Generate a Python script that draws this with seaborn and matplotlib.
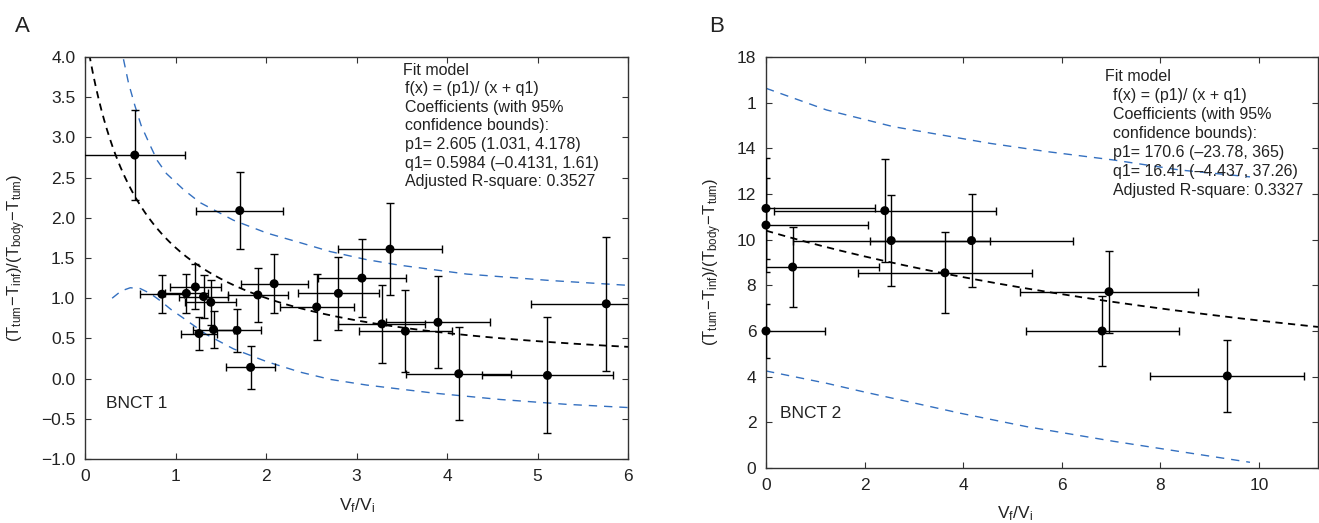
import numpy as np
import pandas as pd
import matplotlib
matplotlib.use('Agg')
import matplotlib.pyplot as plt
import seaborn as sns

# ---- panel A data (BNCT 1) ----
a_x = [0.55, 1.71, 0.85, 1.12, 1.22, 1.31, 1.39, 1.26, 1.42, 1.68, 1.83, 1.91,
       2.09, 2.56, 2.80, 3.06, 3.37, 3.28, 3.54, 3.90, 4.13, 5.11, 5.76]
a_y = [2.78, 2.09, 1.05, 1.06, 1.14, 1.02, 0.95, 0.56, 0.61, 0.60, 0.14, 1.04,
       1.18, 0.89, 1.06, 1.25, 1.61, 0.68, 0.59, 0.70, 0.06, 0.04, 0.93]
a_err = [0.56, 0.48, 0.24, 0.24, 0.28, 0.27, 0.28, 0.20, 0.23, 0.27, 0.27, 0.33,
         0.37, 0.41, 0.45, 0.49, 0.57, 0.48, 0.51, 0.57, 0.58, 0.72, 0.83]
a_p1, a_q1 = 2.605, 0.5984
a_up_x = [0.30, 0.35, 0.42, 0.48, 0.55, 0.62, 0.72, 0.80, 0.90, 1.09, 1.27, 1.64, 2.01, 2.38, 2.71, 3.11, 3.48, 4.22, 5.14, 6.0]
a_up_y = [4.80, 4.43, 4.00, 3.68, 3.40, 3.15, 2.90, 2.71, 2.55, 2.35, 2.19, 1.97, 1.81, 1.69, 1.58, 1.48, 1.41, 1.30, 1.22, 1.16]
a_lo_x = [0.30, 0.40, 0.50, 0.61, 0.72, 0.83, 0.95, 1.09, 1.34, 1.64, 2.01, 2.38, 2.71, 3.11, 3.85, 4.59, 5.32, 6.0]
a_lo_y = [1.00, 1.09, 1.13, 1.12, 1.06, 0.97, 0.86, 0.75, 0.55, 0.37, 0.21, 0.08, -0.01, -0.08, -0.18, -0.26, -0.32, -0.36]

# ---- panel B data (BNCT 2) ----
b_x = [0.0, 0.0, 0.0, 0.54, 2.41, 2.54, 4.17, 3.63, 6.82, 6.96, 9.36]
b_y = [11.37, 10.64, 6.00, 8.80, 11.27, 9.96, 9.96, 8.55, 6.00, 7.72, 4.03]
b_err = [2.22, 2.07, 1.20, 1.75, 2.25, 2.00, 2.05, 1.77, 1.55, 1.80, 1.56]
b_p1, b_q1 = 170.6, 16.41
b_up_x = [0.0, 1.23, 2.58, 4.54, 5.69, 7.05, 8.40, 9.82]
b_up_y = [16.63, 15.68, 14.95, 14.22, 13.86, 13.49, 13.05, 12.75]
b_lo_x = [0.0, 1.23, 1.91, 2.58, 3.94, 5.29, 7.05, 8.40, 9.82]
b_lo_y = [4.25, 3.71, 3.37, 3.05, 2.40, 1.81, 1.17, 0.72, 0.25]

a_text = ("f(x) = (p1)/ (x + q1)\nCoefficients (with 95%\nconfidence bounds):\n"
          "p1= 2.605 (1.031, 4.178)\nq1= 0.5984 (\u20130.4131, 1.61)\nAdjusted R-square: 0.3527")
b_text = ("f(x) = (p1)/ (x + q1)\nCoefficients (with 95%\nconfidence bounds):\n"
          "p1= 170.6 (\u201323.78, 365)\nq1= 16.41 (\u20134.437, 37.26)\nAdjusted R-square: 0.3327")

sns.set_theme(style='ticks')
plt.rcParams['font.family'] = ['Liberation Sans', 'DejaVu Sans']
plt.rcParams['mathtext.fontset'] = 'custom'
plt.rcParams['mathtext.rm'] = 'Liberation Sans'
plt.rcParams['mathtext.it'] = 'Liberation Sans:italic'
plt.rcParams['axes.unicode_minus'] = True

dark = '#333333'
blue = '#3470c0'
ylab = r'$(\mathrm{T_{tum}}\!-\!\mathrm{T_{inf}})/(\mathrm{T_{body}}\!-\!\mathrm{T_{tum}})$'
xlab = r'$\mathrm{V_f/V_i}$'

fig = plt.figure(figsize=(13.19, 5.23), dpi=100)
axA = fig.add_axes([85/1319, 64/523, 543/1319, 402/523])
axB = fig.add_axes([766/1319, 55/523, 552/1319, 411/523])


def panel(ax, x, y, err, p1, q1, upx, upy, lox, loy, xmax):
    fx = np.linspace(0.001, xmax, 400)
    fit = pd.DataFrame({'x': fx, 'y': p1 / (fx + q1)})
    sns.lineplot(data=fit, x='x', y='y', ax=ax, color='black', lw=1.3,
                 linestyle=(0, (4, 3)), sort=False, estimator=None)
    sns.lineplot(x=upx, y=upy, ax=ax, color=blue, lw=1.0,
                 linestyle=(0, (6, 5)), sort=False, estimator=None)
    sns.lineplot(x=lox, y=loy, ax=ax, color=blue, lw=1.0,
                 linestyle=(0, (6, 5)), sort=False, estimator=None)
    ax.errorbar(x, y, xerr=err, yerr=err, fmt='none', ecolor='black',
                elinewidth=1.0, capsize=3, capthick=1.0, zorder=3)
    sns.scatterplot(x=x, y=y, ax=ax, color='black', s=42, edgecolor='none',
                    zorder=4, clip_on=False)
    ax.set_xlim(0, xmax)
    ax.tick_params(direction='in', top=True, right=True, length=4, width=0.8,
                   color=dark, labelcolor='#222222', labelsize=12.5, pad=7)
    for s in ax.spines.values():
        s.set_color(dark)
        s.set_linewidth(1.0)
    ax.set_xlabel('')
    ax.set_ylabel('')


panel(axA, a_x, a_y, a_err, a_p1, a_q1, a_up_x, a_up_y, a_lo_x, a_lo_y, 6)
axA.set_ylim(-1, 4)
axA.set_yticks(np.arange(-1, 4.01, 0.5))
axA.set_yticklabels(['%.1f' % v if v >= 0 else '\u2212%.1f' % abs(v) for v in np.arange(-1, 4.01, 0.5)])
axA.set_xticks(range(0, 7))
axA.text(0.586, 0.985, 'Fit model', transform=axA.transAxes, ha='left', va='top', fontsize=11.5, color='#222')
axA.text(0.590, 0.94, a_text, transform=axA.transAxes, ha='left', va='top', fontsize=11.5,
         color='#222', linespacing=1.3)
axA.text(0.039, 0.138, 'BNCT 1', transform=axA.transAxes, ha='left', va='center', fontsize=12.5, color='#222')

panel(axB, b_x, b_y, b_err, b_p1, b_q1, b_up_x, b_up_y, b_lo_x, b_lo_y, 11.2)
axB.set_ylim(0, 18)
axB.set_yticks(range(0, 19, 2))
axB.set_yticklabels(['0', '2', '4', '6', '8', '10', '12', '14', '1', '18'])
axB.set_xticks(range(0, 11, 2))
axB.text(0.614, 0.97, 'Fit model', transform=axB.transAxes, ha='left', va='top', fontsize=11.5, color='#222')
axB.text(0.628, 0.925, b_text, transform=axB.transAxes, ha='left', va='top', fontsize=11.5,
         color='#222', linespacing=1.33)
axB.text(0.025, 0.133, 'BNCT 2', transform=axB.transAxes, ha='left', va='center', fontsize=12.5, color='#222')

# axis labels placed by figure pixels
fig.text(357/1319, 1 - 506/523, xlab, ha='center', va='center', fontsize=12.5, color='#222')
fig.text(1015/1319, 1 - 514/523, xlab, ha='center', va='center', fontsize=12.5, color='#222')
fig.text(17/1319, 1 - 258/523, ylab, ha='center', va='center', rotation=90, fontsize=12, color='#222')
fig.text(713/1319, 1 - 262/523, ylab, ha='center', va='center', rotation=90, fontsize=12, color='#222')

fig.text(15/1319, 1 - 26/523, 'A', ha='left', va='center', fontsize=16, color='#222')
fig.text(709/1319, 1 - 26/523, 'B', ha='left', va='center', fontsize=16, color='#222')

fig.savefig('out.png', dpi=100)
